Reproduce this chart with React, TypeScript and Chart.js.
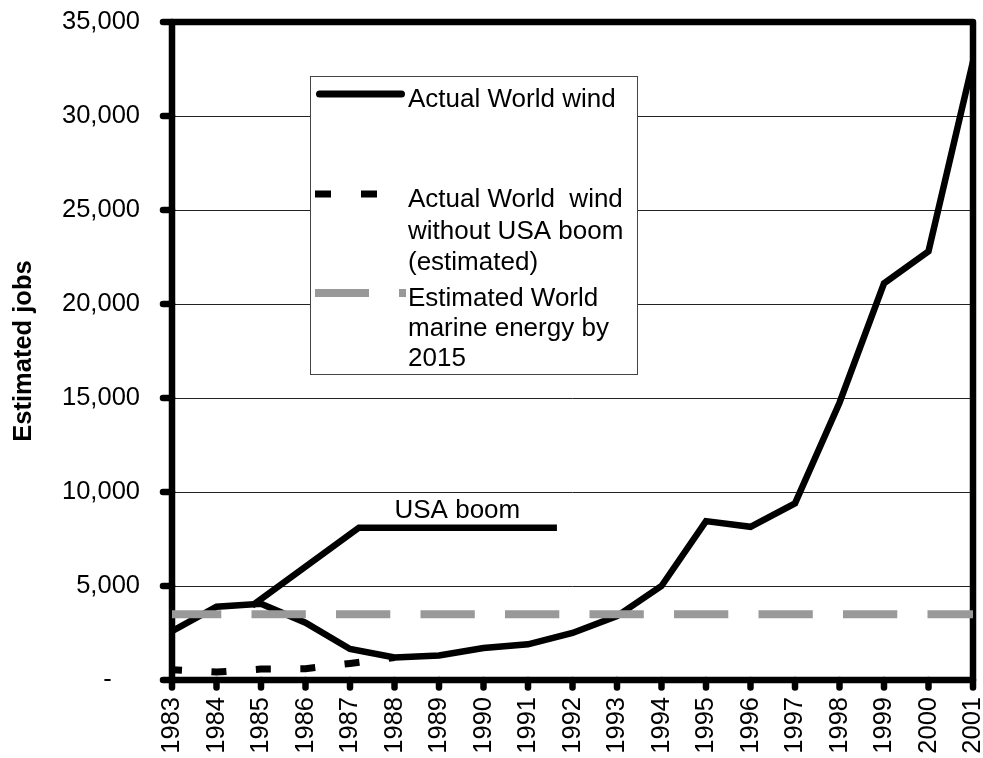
import React, { useEffect, useRef } from 'react';
import { Chart, registerables } from 'chart.js';

Chart.register(...registerables);

const FONT = "'Liberation Sans', Arial, Helvetica, sans-serif";

// Years on the horizontal axis
const years = [
  1983, 1984, 1985, 1986, 1987, 1988, 1989, 1990, 1991, 1992,
  1993, 1994, 1995, 1996, 1997, 1998, 1999, 2000, 2001,
];

// Estimated jobs, actual world wind
const actualWorldWind = [
  2600, 3900, 4050, 3050, 1650, 1200, 1300, 1700, 1900, 2500,
  3400, 5000, 8450, 8150, 9400, 14750, 21100, 22800, 32900,
];

// Actual world wind without the USA boom (estimated), until it rejoins the main series
const withoutUsaBoomYears = [1983, 1984, 1985, 1986, 1987, 1988];
const withoutUsaBoom = [550, 420, 580, 600, 880, 1200];

// Estimated world marine energy jobs by 2015 (flat reference level)
const marineYears = [1983, 2001];
const marineEnergy2015 = [3500, 3500];

// "USA boom" bracket line
const usaBoomX = [1984.8, 1987.2, 1991.65];
const usaBoomY = [3950, 8100, 8100];
const usaBoomLabel = 'USA boom';
const usaBoomLabelAt = { x: 1988, y: 8600 };

// Legend entries
const legendLines = [
  ['Actual World wind'],
  ['Actual World  wind', 'without USA boom', '(estimated)'],
  ['Estimated World', 'marine energy by', '2015'],
];
const legendBaselines = [[107], [207, 239, 270], [306, 336, 366]];

const yAxisTitle = 'Estimated jobs';
const yTickValues = [0, 5000, 10000, 15000, 20000, 25000, 30000, 35000];

const formatThousands = (v: number) =>
  v === 0 ? '-    ' : String(v).replace(/\B(?=(\d{3})+(?!\d))/g, ',');

const toPoints = (xs: number[], ys: number[]) => xs.map((x, i) => ({ x, y: ys[i] }));

// Thick plot frame with rounded tick marks
const framePlugin = {
  id: 'plotFrame',
  beforeDatasetsDraw(chart: any) {
    const { ctx, chartArea, scales } = chart;
    const { left, right, top, bottom } = chartArea;
    ctx.save();
    ctx.strokeStyle = '#000';
    ctx.lineWidth = 6.5;
    ctx.lineJoin = 'round';
    ctx.strokeRect(left, top, right - left, bottom - top);
    ctx.lineCap = 'round';
    yTickValues.forEach((v) => {
      const y = scales.y.getPixelForValue(v);
      ctx.beginPath();
      ctx.moveTo(left, y);
      ctx.lineTo(left - 9, y);
      ctx.stroke();
    });
    years.forEach((yr) => {
      const x = scales.x.getPixelForValue(yr);
      ctx.beginPath();
      ctx.moveTo(x, bottom);
      ctx.lineTo(x, bottom + 7.5);
      ctx.stroke();
    });
    ctx.restore();
  },
};

// Boxed legend and the "USA boom" label
const legendPlugin = {
  id: 'boxLegend',
  afterDraw(chart: any) {
    const { ctx, scales } = chart;
    ctx.save();

    ctx.fillStyle = '#000';
    ctx.font = `26px ${FONT}`;
    ctx.textAlign = 'left';
    ctx.textBaseline = 'alphabetic';
    ctx.fillText(
      usaBoomLabel,
      scales.x.getPixelForValue(usaBoomLabelAt.x),
      scales.y.getPixelForValue(usaBoomLabelAt.y)
    );

    const bx = 310;
    const by = 76;
    const bw = 328;
    const bh = 299;
    ctx.fillStyle = '#fff';
    ctx.fillRect(bx, by, bw, bh);
    ctx.strokeStyle = '#444';
    ctx.lineWidth = 1;
    ctx.strokeRect(bx + 0.5, by + 0.5, bw - 1, bh - 1);

    // sample: solid black
    ctx.strokeStyle = '#000';
    ctx.lineWidth = 7;
    ctx.lineCap = 'round';
    ctx.beginPath();
    ctx.moveTo(319.5, 94);
    ctx.lineTo(401.5, 94);
    ctx.stroke();

    // sample: black dashes
    ctx.fillStyle = '#000';
    ctx.fillRect(315, 190.5, 16, 7);
    ctx.fillRect(361, 190.5, 16, 7);

    // sample: grey dashes
    ctx.fillStyle = '#999';
    ctx.fillRect(315, 289, 54, 8);
    ctx.fillRect(399, 289, 7, 8);

    ctx.fillStyle = '#000';
    ctx.font = `26px ${FONT}`;
    legendLines.forEach((lines, i) => {
      lines.forEach((t, j) => ctx.fillText(t, 408, legendBaselines[i][j]));
    });
    ctx.restore();
  },
};

export default function App() {
  const canvasRef = useRef<HTMLCanvasElement | null>(null);

  useEffect(() => {
    if (!canvasRef.current) return;
    Chart.defaults.font.family = FONT;
    Chart.defaults.color = '#000';

    const chart = new Chart(canvasRef.current, {
      type: 'line',
      data: {
        datasets: [
          {
            label: 'Estimated World marine energy by 2015',
            data: toPoints(marineYears, marineEnergy2015),
            borderColor: '#999999',
            borderWidth: 8,
            borderDash: [54.3, 30.2],
            borderDashOffset: 5,
            borderCapStyle: 'butt',
            pointRadius: 0,
            order: 0,
          },
          {
            label: 'Actual World wind',
            data: toPoints(years, actualWorldWind),
            borderColor: '#000',
            borderWidth: 6.5,
            borderJoinStyle: 'miter',
            pointRadius: 0,
            tension: 0,
            order: 1,
          },
          {
            label: 'USA boom',
            data: toPoints(usaBoomX, usaBoomY),
            borderColor: '#000',
            borderWidth: 6.5,
            borderJoinStyle: 'miter',
            pointRadius: 0,
            order: 2,
          },
          {
            label: 'Actual World wind without USA boom (estimated)',
            data: toPoints(withoutUsaBoomYears, withoutUsaBoom),
            borderColor: '#000',
            borderWidth: 7,
            borderDash: [15, 29.5],
            borderDashOffset: 5,
            pointRadius: 0,
            order: 3,
          },
        ],
      },
      options: {
        responsive: false,
        animation: false,
        devicePixelRatio: 1,
        layout: { padding: { left: 0, top: 22, right: 10, bottom: 0 } },
        plugins: {
          legend: { display: false },
          tooltip: { enabled: false },
        },
        scales: {
          x: {
            type: 'linear',
            min: years[0],
            max: years[years.length - 1],
            grid: { display: false, drawTicks: false },
            border: { display: false },
            ticks: {
              stepSize: 1,
              maxTicksLimit: 100,
              autoSkip: false,
              minRotation: 90,
              maxRotation: 90,
              padding: 17,
              color: '#000',
              font: { size: 25.5, family: FONT },
              callback: (v: any) => String(v),
            },
            afterFit: (s: any) => {
              s.height = 78;
              s.paddingLeft = 0;
              s.paddingRight = 0;
            },
          },
          y: {
            type: 'linear',
            min: 0,
            max: 35000,
            grid: { color: '#222', lineWidth: 1, drawTicks: false },
            border: { display: false },
            ticks: {
              stepSize: 5000,
              padding: 32,
              color: '#000',
              font: { size: 25.5, family: FONT },
              callback: (v: any) => formatThousands(Number(v)),
            },
            title: {
              display: true,
              text: yAxisTitle,
              color: '#000',
              font: { size: 25.5, weight: 'bold', family: FONT },
              padding: { top: 9, bottom: 0 },
            },
            afterFit: (s: any) => {
              s.width = 172;
              s.paddingTop = 0;
              s.paddingBottom = 0;
            },
          },
        },
      },
      plugins: [framePlugin, legendPlugin],
    } as any);

    return () => chart.destroy();
  }, []);

  return (
    <div style={{ position: 'fixed', left: 0, top: 0, width: 983, height: 758, background: '#fff' }}>
      <canvas ref={canvasRef} width={983} height={758} />
    </div>
  );
}
